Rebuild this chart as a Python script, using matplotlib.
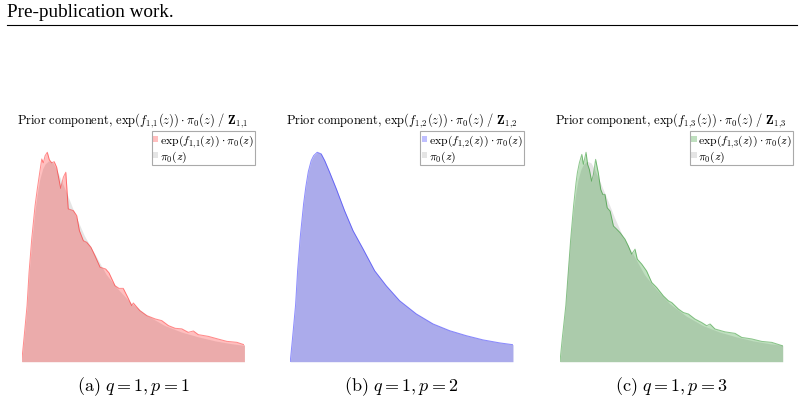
import matplotlib
matplotlib.use('Agg')
import matplotlib.pyplot as plt
from matplotlib.lines import Line2D

plt.rcParams['mathtext.fontset'] = 'cm'
plt.rcParams['font.family'] = ['Liberation Serif', 'DejaVu Serif']

# prior pi_0(z), shared by all panels
z_prior = [0, 0.10, 0.24, 0.33, 0.45, 0.60, 0.70, 0.81, 0.94, 1.05, 1.21, 1.39, 1.55, 1.77,
           2.07, 2.44, 2.82, 3.27, 3.79, 4.31, 4.91, 5.66, 6.41, 7.16, 7.91, 8.66, 9.41, 10.0]
p_prior = [0, 0.115, 0.285, 0.455, 0.625, 0.79, 0.875, 0.95, 1.005, 1.03, 1.047, 1.039, 1.005,
           0.947, 0.864, 0.755, 0.655, 0.564, 0.455, 0.38, 0.305, 0.239, 0.189, 0.155, 0.13,
           0.109, 0.094, 0.085]

# component p=1
z_p1 = [0, 0.10, 0.24, 0.33, 0.45, 0.60, 0.70, 0.81, 0.90, 0.97, 1.05, 1.15, 1.24, 1.35,
        1.46, 1.57, 1.75, 1.87, 1.98, 2.09, 2.32, 2.47, 2.59, 2.77, 2.92, 3.11, 3.29, 3.52,
        3.77, 3.92, 4.19, 4.37, 4.56, 4.76, 4.94, 5.01, 5.31, 5.62, 5.99, 6.29, 6.59, 6.89,
        7.19, 7.48, 7.71, 7.93, 8.38, 8.79, 9.21, 9.66, 10.0]
p_p1 = [0, 0.119, 0.292, 0.466, 0.640, 0.813, 0.900, 0.987, 1.056, 1.036, 1.073, 1.091, 1.052,
        1.036, 1.042, 1.013, 0.903, 0.961, 0.987, 0.796, 0.787, 0.761, 0.683, 0.630, 0.622,
        0.596, 0.552, 0.492, 0.483, 0.463, 0.396, 0.382, 0.382, 0.336, 0.292, 0.306, 0.266,
        0.240, 0.223, 0.214, 0.188, 0.174, 0.171, 0.153, 0.160, 0.141, 0.132, 0.119, 0.106,
        0.101, 0.088]

# component p=2 (sits on the prior)
z_p2 = [0, 0.10, 0.24, 0.33, 0.45, 0.60, 0.70, 0.81, 0.94, 1.05, 1.21, 1.39, 1.55, 1.77,
        2.07, 2.44, 2.82, 3.27, 3.79, 4.31, 4.91, 5.66, 6.41, 7.16, 7.91, 8.66, 9.41, 10.0]
p_p2 = [0, 0.115, 0.285, 0.455, 0.625, 0.79, 0.875, 0.95, 1.005, 1.03, 1.047, 1.039, 1.005,
        0.947, 0.864, 0.755, 0.655, 0.564, 0.455, 0.38, 0.305, 0.239, 0.189, 0.155, 0.13,
        0.109, 0.094, 0.085]

# component p=3
z_p3 = [0, 0.10, 0.26, 0.37, 0.48, 0.61, 0.72, 0.78, 0.87, 0.98, 1.05, 1.17, 1.24, 1.32,
        1.42, 1.50, 1.60, 1.72, 1.83, 1.92, 2.02, 2.12, 2.25, 2.40, 2.55, 2.70, 2.92, 3.07,
        3.22, 3.37, 3.47, 3.67, 3.89, 4.12, 4.34, 4.64, 4.87, 5.02, 5.32, 5.54, 5.77, 6.06,
        6.36, 6.59, 6.74, 6.96, 7.41, 7.86, 8.16, 8.61, 9.06, 9.51, 10.0]
p_p3 = [0, 0.119, 0.292, 0.466, 0.640, 0.813, 0.935, 0.987, 1.039, 1.083, 1.031, 1.094, 1.031,
        1.004, 0.943, 0.978, 1.057, 0.987, 0.900, 0.874, 0.874, 0.804, 0.787, 0.709, 0.692,
        0.674, 0.640, 0.604, 0.562, 0.588, 0.536, 0.510, 0.474, 0.414, 0.388, 0.344, 0.318,
        0.309, 0.275, 0.257, 0.249, 0.223, 0.205, 0.188, 0.197, 0.171, 0.156, 0.148, 0.127,
        0.119, 0.106, 0.101, 0.083]

panels = [(z_p1, p_p1, 'red', '1', 'a'),
          (z_p2, p_p2, 'blue', '2', 'b'),
          (z_p3, p_p3, 'green', '3', 'c')]
lefts = [0.027, 0.361, 0.6965]

fig = plt.figure(figsize=(8.04, 4.02), dpi=100)
fig.text(7 / 804, 1 - 17 / 402, 'Pre-publication work.', fontsize=13.8, va='baseline')
fig.add_artist(Line2D([7 / 804, 797 / 804], [1 - 26 / 402] * 2, color='black', lw=0.8))

for (z, p, col, k, tag), left in zip(panels, lefts):
    ax = fig.add_axes([left, 0.0978, 0.277, 0.5788])
    ax.fill_between(z_prior, p_prior, color='grey', alpha=0.2, lw=0, label=r'$\pi_0(z)$')
    ax.fill_between(z, p, color=col, alpha=0.25, lw=0,
                    label=r'$\exp(f_{1,\!%s}(z))\cdot\pi_0(z)$' % k)
    ax.plot(z, p, color=col, alpha=0.45, lw=0.7)
    ax.set_xlim(0, 10)
    ax.set_ylim(0, max(p) * 1.111)
    ax.axis('off')
    ax.set_title(r'$\mathrm{Prior\ component,}\,\exp(f_{1,\!%s}(z))\cdot\pi_0(z)\ /\ \mathbf{Z}_{1,\!%s}$' % (k, k),
                 fontsize=9, pad=3)
    h, l = ax.get_legend_handles_labels()
    leg = ax.legend(h[::-1], l[::-1], loc='upper right', bbox_to_anchor=(1.048, 0.99),
                    borderaxespad=0, fontsize=8.5, handlelength=0.45, handleheight=0.5,
                    handletextpad=0.15, borderpad=0.1, labelspacing=0.0,
                    fancybox=False, framealpha=1, edgecolor='#aaaaaa')
    leg.get_frame().set_linewidth(0.8)
    fig.text(left + 0.277 / 2, 1 - 391 / 402, r'$\mathrm{(%s)}\ q = 1, p = %s$' % (tag, k),
             fontsize=13, ha='center', va='baseline')

fig.savefig('out.png', dpi=100)
